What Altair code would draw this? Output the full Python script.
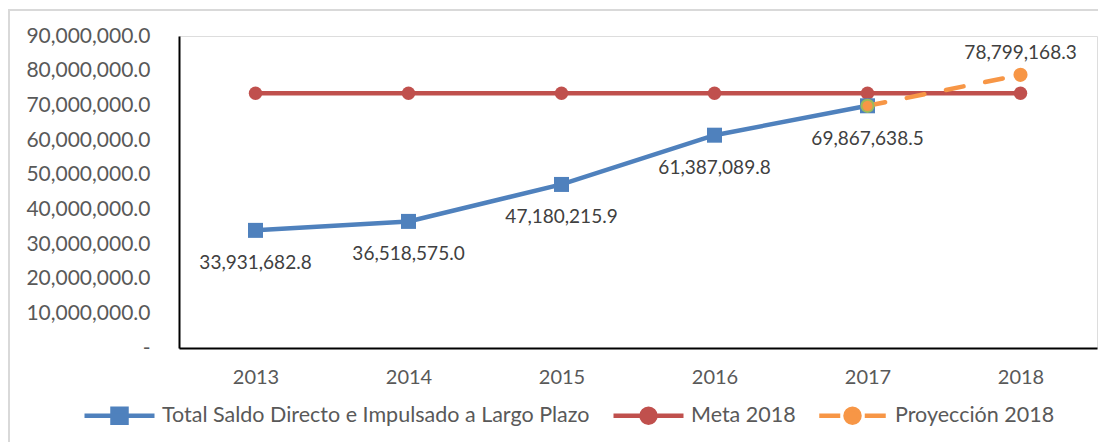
import altair as alt
import pandas as pd

years = ["2013", "2014", "2015", "2016", "2017", "2018"]

total_years = ["2013", "2014", "2015", "2016", "2017"]
total_values = [33931682.8, 36518575.0, 47180215.9, 61387089.8, 69867638.5]

meta_years = ["2013", "2014", "2015", "2016", "2017", "2018"]
meta_values = [73500000, 73500000, 73500000, 73500000, 73500000, 73500000]

proj_years = ["2017", "2018"]
proj_values = [69867638.5, 78799168.3]

series = ["Total Saldo Directo e Impulsado a Largo Plazo", "Meta 2018", "Proyección 2018"]
colors = ["#4F81BD", "#C0504D", "#F79646"]
green_edge = "#9BBB59"

y_ticks = [0, 10000000, 20000000, 30000000, 40000000, 50000000,
           60000000, 70000000, 80000000, 90000000]

total_df = pd.DataFrame({"year": total_years, "value": total_values, "serie": series[0]})
meta_df = pd.DataFrame({"year": meta_years, "value": meta_values, "serie": series[1]})
proj_df = pd.DataFrame({"year": proj_years, "value": proj_values, "serie": series[2]})

FONT = "Lato"

x = alt.X("year:O",
          scale=alt.Scale(type="point", domain=years, padding=0.5),
          axis=alt.Axis(title=None, labelAngle=0, ticks=False, labelPadding=19,
                        labelFontSize=20, labelFont=FONT, labelColor="#595959",
                        domainColor="#000000", domainWidth=2))
y = alt.Y("value:Q",
          scale=alt.Scale(domain=[0, 90000000], nice=False, zero=True),
          axis=alt.Axis(title=None, values=y_ticks, ticks=False, grid=False, labelPadding=29,
                        labelExpr="datum.value == 0 ? '-' : format(datum.value, ',.1f')",
                        labelFontSize=21, labelFont=FONT, labelColor="#595959",
                        domainColor="#000000", domainWidth=2))

# Meta 2018
meta_line = alt.Chart(meta_df).mark_line(color=colors[1], strokeWidth=4.5).encode(x=x, y=y)
meta_pts = alt.Chart(meta_df).mark_point(filled=True, shape="circle", size=180,
                                         color=colors[1], opacity=1).encode(x=x, y=y)

# Total
total_line = alt.Chart(total_df).mark_line(color=colors[0], strokeWidth=4.5).encode(x=x, y=y)
total_pts = alt.Chart(total_df).mark_point(filled=True, shape="square", size=225,
                                           color=colors[0], opacity=1).encode(x=x, y=y)
total_lbl = alt.Chart(total_df).mark_text(dy=33, fontSize=19, font=FONT, color="#404040",
                                          baseline="middle").encode(
    x=x, y=y, text=alt.Text("value:Q", format=",.1f"))

# Projection
proj_line = alt.Chart(proj_df).mark_line(color=colors[2], strokeWidth=4.5,
                                         strokeDash=[18, 22], strokeCap="round").encode(x=x, y=y)
proj_pt_end = alt.Chart(proj_df).transform_filter("datum.year == '2018'").mark_point(
    filled=True, shape="circle", size=200, color=colors[2], opacity=1).encode(x=x, y=y)
proj_pt_start = alt.Chart(proj_df).transform_filter("datum.year == '2017'").mark_point(
    shape="circle", size=150, fill=colors[2], stroke=green_edge, strokeWidth=2,
    filled=True, opacity=1).encode(x=x, y=y)
proj_lbl = alt.Chart(proj_df).transform_filter("datum.year == '2018'").mark_text(
    dy=-22, fontSize=19, font=FONT, color="#404040", baseline="middle").encode(
    x=x, y=y, text=alt.Text("value:Q", format=",.1f"))

# Legend (custom symbol paths: line + marker)
legend_paths = [
    "M-1,0H1M-0.2,-0.2H0.2V0.2H-0.2Z",
    "M-1,0H1M-0.2,0A0.2,0.2 0 1,0 0.2,0A0.2,0.2 0 1,0 -0.2,0Z",
    "M-0.95,0H-0.35M0.35,0H0.95M-0.2,0A0.2,0.2 0 1,0 0.2,0A0.2,0.2 0 1,0 -0.2,0Z",
]
leg = alt.Legend(title=None, orient="none", legendX=-97, legendY=342, direction="horizontal",
                 columns=3, labelFont=FONT, labelFontSize=21.5, labelColor="#595959",
                 labelLimit=700, labelOffset=5, columnPadding=14, symbolSize=4900,
                 symbolStrokeWidth=4.5, padding=0)
legend_df = pd.DataFrame({"serie": series})
legend_layer = alt.Chart(legend_df).transform_filter("false").mark_point(
    filled=True, size=4900, strokeWidth=4.5, opacity=1).encode(
    shape=alt.Shape("serie:N", scale=alt.Scale(domain=series, range=legend_paths), legend=leg),
    fill=alt.Fill("serie:N", scale=alt.Scale(domain=series, range=colors), legend=leg),
    stroke=alt.Stroke("serie:N", scale=alt.Scale(domain=series, range=colors), legend=leg),
)

# Chart border
border = alt.Chart(legend_df).mark_rect(fill=None, stroke="#d9d9d9", strokeWidth=2).encode(
    x=alt.value(-170), x2=alt.value(940), y=alt.value(-26), y2=alt.value(420))

chart = alt.layer(
    border, meta_line, meta_pts, total_line, total_pts, proj_line, proj_pt_end, proj_pt_start,
    total_lbl, proj_lbl, legend_layer
).properties(
    width=918, height=312,
    autosize=alt.AutoSizeParams(type="none"),
    padding={"left": 171, "top": 28, "right": 1, "bottom": 94},
).configure_view(stroke=None).configure(background="white")

chart.save("out.html", embed_options={"renderer": "svg", "actions": False})
